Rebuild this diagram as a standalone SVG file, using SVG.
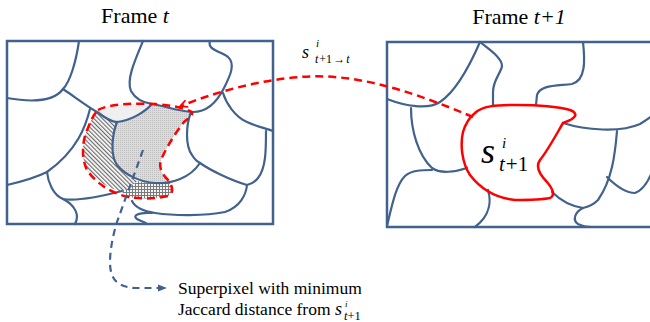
<svg xmlns="http://www.w3.org/2000/svg" width="650" height="322" viewBox="0 0 650 322">
<style>
.frame{fill:none;stroke:#41618E;stroke-width:2.5}
.sp{fill:none;stroke:#41618E;stroke-width:2.2;stroke-linecap:round}
.rdash{fill:none;stroke:#FF0000;stroke-width:2.5;stroke-dasharray:8,5}
.rsolid{fill:none;stroke:#FF0000;stroke-width:2.5}
.bdash{fill:none;stroke:#41618E;stroke-width:2.2;stroke-dasharray:7,5}
.t{font-family:"Liberation Serif","Times New Roman",serif;fill:#000}
.it{font-style:italic}
.up{font-style:normal}
</style>
<defs>
<pattern id="hatch" width="3" height="3" patternUnits="userSpaceOnUse" patternTransform="rotate(-45)">
<rect width="3" height="3" fill="#fff"/>
<line x1="0.6" y1="0" x2="0.6" y2="3" stroke="#6a6a6a" stroke-width="1.2"/>
</pattern>
<pattern id="grid" width="3" height="3" patternUnits="userSpaceOnUse">
<rect width="3" height="3" fill="#f4f4f4"/>
<rect x="0" y="0" width="3" height="1" fill="#7a7a7a"/>
<rect x="0" y="0" width="1" height="3" fill="#7a7a7a"/>
</pattern>
<pattern id="dots" width="2" height="2" patternUnits="userSpaceOnUse">
<rect width="2" height="2" fill="#dcdcdc"/>
<rect width="1" height="1" fill="#bdbdbd"/>
</pattern>
<marker id="redhead" viewBox="0 0 10 10" refX="8" refY="5" markerWidth="9" markerHeight="9" markerUnits="userSpaceOnUse" orient="auto">
<path d="M1,1 L9,5 L1,9" fill="none" stroke="#FF0000" stroke-width="2"/>
</marker>
<marker id="bluehead" viewBox="0 0 10 10" refX="9" refY="5" markerWidth="9" markerHeight="9" markerUnits="userSpaceOnUse" orient="auto">
<path d="M0,1 L10,5 L0,9 Z" fill="#41618E"/>
</marker>
</defs>

<g id="title-left"><text class="t" x="135" y="23" font-size="22" text-anchor="middle">Frame <tspan class="it">t</tspan></text></g>
<g id="title-right"><text class="t" x="519" y="24" font-size="22" text-anchor="middle">Frame <tspan class="it">t+1</tspan></text></g>

<g id="frame-t">
<rect class="frame" x="7" y="41" width="266" height="183"/>
<path id="region-light" d="M98,110 C108,104 135,103 152,104 C145,112 130,121 117,122 C110,121 103,116 98,110 Z" fill="#efefef"/>
<path id="region-grey" d="M117,122 C130,121 145,112 152,104 C165,106 180,112 190,113 L184,122 C176,132 166,148 161,160 C158,168 163,175 168,180 L155,183 C140,182 125,175 117,165 C110,155 112,135 117,122 Z" fill="url(#dots)"/>
<path id="region-hatch" d="M98,110 C103,116 110,121 117,122 C112,135 110,155 117,165 C122,172 130,178 138,181 L122,192 C108,188 95,180 87,170 C81,158 82,140 88,128 C91,120 94,114 98,110 Z" fill="url(#hatch)"/>
<path id="region-grid" d="M122,192 L138,181 C145,183 150,183 155,183 L168,181 C173,186 174,194 168,196 C155,199 140,199 128,197 Z" fill="url(#grid)"/>
<path class="sp" d="M79,41 C76,62 70,82 63,89 C55,100 35,103 7,98"/>
<path class="sp" d="M63,89 C75,97 85,105 97,112 C105,118 111,122 117,122 C130,121 145,112 152,104"/>
<path class="sp" d="M143,41 C135,60 126,80 131,91 C136,100 145,103 152,104 C165,106 180,112 193,112 C208,112 218,100 224,88 C230,76 236,64 228,57 C220,51 207,50 210,41"/>
<path class="sp" d="M223,93 C226,103 235,117 247,122 C255,126 265,128 273,131"/>
<path class="sp" d="M266,131 C266,150 266,168 258,178 C255,182 251,184 247,185"/>
<path class="sp" d="M117,122 C112,135 110,155 117,165 C125,175 140,182 155,183 C172,184 190,178 200,163"/>
<path class="sp" d="M191,112 C186,125 185,145 192,155 C195,160 198,162 200,163 C210,170 230,180 247,185"/>
<path class="sp" d="M132,201 C135,207 142,211 155,213 C175,216 205,216 225,212 C240,207 246,195 247,185"/>
<path class="sp" d="M152,213 C138,212 132,216 137,219 C140,221 145,222 147,224"/>
<path class="sp" d="M90,109 C86,125 78,150 47,172"/>
<path class="sp" d="M7,185 C20,182 35,178 47,172"/>
<path class="sp" d="M47,172 C48,182 53,195 63,199 C75,201 95,198 122,191"/>
<path class="sp" d="M63,199 C75,205 80,215 75,224"/>
<path class="rdash" d="M98,110 C108,104 135,103 155,104 C170,105 185,108 192,112 C193,116 188,118 184,122 C176,132 166,148 161,160 C158,168 163,175 168,180 C173,186 174,194 168,196 C155,199 140,199 128,197 C110,193 95,182 87,170 C81,158 82,140 88,128 C91,120 94,114 98,110 Z"/>
</g>

<g id="frame-t1">
<rect class="frame" x="387" y="42" width="268" height="185"/>
<path class="sp" d="M480,42 C470,65 455,92 440,102 C428,110 405,106 387,99"/>
<path class="sp" d="M480,42 C490,50 502,58 502,66 C501,73 493,80 493,92 L493,106"/>
<path class="sp" d="M411,108 C411,130 418,155 432,168 C440,174 455,172 467,168"/>
<path class="sp" d="M387,226 C392,205 396,185 405,176 C412,170 422,170 432,170"/>
<path class="sp" d="M488,190 C491,200 491,215 475,227"/>
<path class="sp" d="M583,42 C585,60 586,80 572,84 C555,86 540,85 537,95 L536,105"/>
<path class="sp" d="M563,123 C585,130 620,133 640,124 C645,121 648,119 652,116"/>
<path class="sp" d="M617,131 C615,155 612,180 598,200 C593,205 588,207 583,208"/>
<path class="sp" d="M552,192 C560,200 570,206 583,208"/>
<path class="sp" d="M583,208 C575,212 572,220 578,224 C582,226 588,227 592,227"/>
<path class="sp" d="M607,177 C615,185 625,193 635,193 C643,190 648,182 652,172"/>
<path id="sp-target" class="rsolid" d="M475,113 C482,106 495,105 517,105 C535,105 555,106 570,110 C578,113 578,118 563,123 C556,135 548,150 540,160 C535,167 540,175 547,182 C552,188 556,195 550,198 C540,200 525,200 515,200 C495,198 480,188 470,175 C462,163 460,145 463,132 C466,122 470,117 475,113 Z"/>
<text id="label-target" class="t it"><tspan x="481" y="163" font-size="36">s</tspan><tspan x="502" y="148" font-size="15">i</tspan><tspan x="499" y="171" font-size="21">t</tspan><tspan class="up" dx="1" font-size="21">+1</tspan></text>
</g>

<g id="connectors">
<path class="rdash" d="M473,117 C420,95 360,72 300,77 C260,80 215,92 181,106" marker-end="url(#redhead)"/>
<path class="bdash" d="M143,150 L117,222 C113,235 110,250 110,262 C110,280 118,287 135,288 L166,288" marker-end="url(#bluehead)"/>
</g>

<text id="label-warp" class="t it"><tspan x="302" y="58" font-size="18">s</tspan><tspan x="316" y="47" font-size="11">i</tspan><tspan x="315" y="63" font-size="12">t</tspan><tspan class="up" font-size="12" dx="1">+1</tspan><tspan class="up" font-size="12" dx="1">→</tspan><tspan font-size="12" dx="1">t</tspan></text>

<text id="legend" class="t" font-size="17.5"><tspan x="178" y="294">Superpixel with minimum</tspan><tspan x="178" y="315">Jaccard distance from</tspan><tspan class="it" x="335" y="315" font-size="18">s</tspan><tspan class="it" x="345" y="307" font-size="9">i</tspan><tspan class="it" x="344" y="320" font-size="12.5">t</tspan><tspan font-size="12.5">+1</tspan></text>
</svg>
